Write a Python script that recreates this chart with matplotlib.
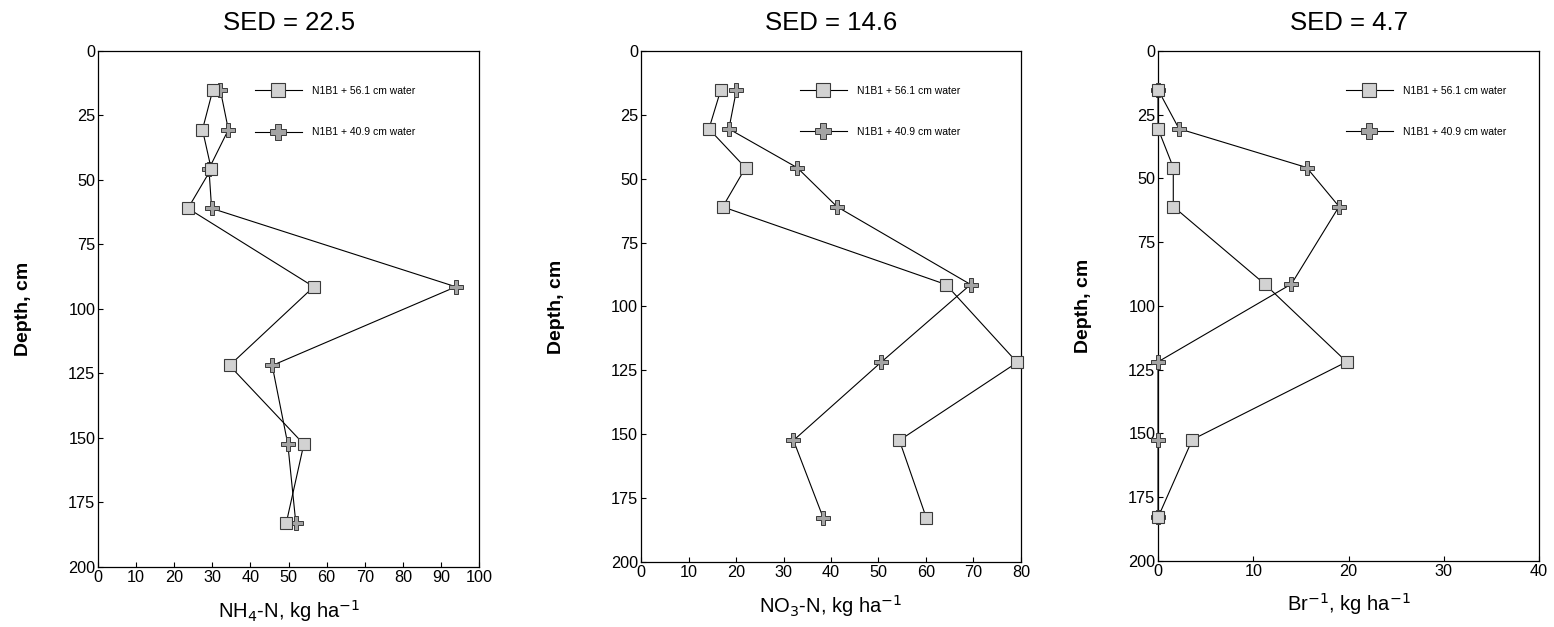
import matplotlib
matplotlib.use("Agg")
import matplotlib.pyplot as plt

plt.rcParams['font.family'] = ['Liberation Sans', 'DejaVu Sans']

# depths of sampling (cm)
depth = [15.2, 30.5, 45.7, 61.0, 91.4, 121.9, 152.4, 182.9]

# NH4-N, kg/ha
nh4_561 = [30.1, 27.4, 29.7, 23.6, 56.6, 34.5, 54.0, 49.4]
nh4_409 = [32.1, 34.2, 29.1, 29.8, 93.9, 45.7, 49.8, 51.9]

# NO3-N, kg/ha
no3_561 = [16.8, 14.3, 22.0, 17.2, 64.2, 79.2, 54.4, 60.1]
no3_409 = [20.1, 18.5, 32.9, 41.3, 69.4, 50.5, 32.1, 38.4]

# Br, kg/ha
br_561 = [0.0, 0.0, 1.6, 1.6, 11.2, 19.8, 3.6, 0.0]
br_409 = [0.0, 2.2, 15.6, 19.0, 14.0, 0.0, 0.0, 0.0]

titles = ["SED = 22.5", "SED = 14.6", "SED = 4.7"]
xlabels = ["NH$_4$-N, kg ha$^{-1}$", "NO$_3$-N, kg ha$^{-1}$", "Br$^{-1}$, kg ha$^{-1}$"]
xlims = [100, 80, 40]
lab1 = "N1B1 + 56.1 cm water"
lab2 = "N1B1 + 40.9 cm water"

# axes boxes (figure fraction)
boxes = [[0.0631, 0.0957, 0.2452, 0.8230],
         [0.4125, 0.1037, 0.2445, 0.8150],
         [0.7452, 0.1053, 0.2452, 0.8134]]
leg_x = [0.412, 0.418, 0.493]
ylab_x = [-0.174, -0.20, -0.174]

fig = plt.figure(figsize=(15.54, 6.27), dpi=100)

series = [(nh4_561, nh4_409), (no3_561, no3_409), (br_561, br_409)]

for i, (s1, s2) in enumerate(series):
    ax = fig.add_axes(boxes[i])
    ax.plot(s2, depth, color='black', lw=0.8, marker='P', markersize=9.5,
            markerfacecolor='#a4a4a4', markeredgecolor='#3a3a3a', markeredgewidth=0.7,
            label=lab2, zorder=3, clip_on=False)
    ax.plot(s1, depth, color='black', lw=0.8, marker='s', markersize=8.6,
            markerfacecolor='#d2d2d2', markeredgecolor='#3a3a3a', markeredgewidth=0.8,
            label=lab1, zorder=4, clip_on=False)
    ax.set_xlim(0, xlims[i])
    ax.set_ylim(200, 0)
    ax.set_xticks(range(0, xlims[i] + 1, 10))
    ax.set_yticks(range(0, 201, 25))
    ax.tick_params(direction='in', length=3.5, width=0.8, labelsize=11.7, pad=2)
    for sp in ax.spines.values():
        sp.set_linewidth(0.9)
    ax.set_title(titles[i], fontsize=18.5, pad=15)
    ax.set_xlabel(xlabels[i], fontsize=14.5)
    ax.xaxis.set_label_coords(0.5, -0.06)
    ax.set_ylabel("Depth, cm", fontsize=14, fontweight='bold')
    ax.yaxis.set_label_coords(ylab_x[i], 0.5)
    h, l = ax.get_legend_handles_labels()
    ax.legend(h[::-1], l[::-1], loc='upper left', bbox_to_anchor=(leg_x[i], 0.932),
              frameon=False, fontsize=7.5, handlelength=4.5, handletextpad=1.0,
              labelspacing=3.0, borderpad=0, borderaxespad=0, markerscale=1.25)

fig.savefig("out.png", dpi=100)
